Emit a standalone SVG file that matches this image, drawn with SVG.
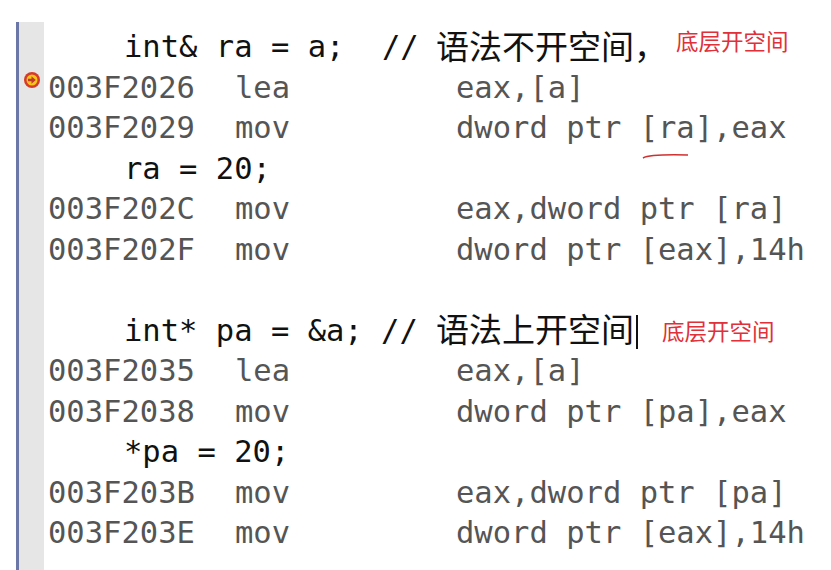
<svg xmlns="http://www.w3.org/2000/svg" width="831" height="570" viewBox="0 0 831 570">
<style>
.m{font-family:"DejaVu Sans Mono","Liberation Mono",monospace;font-size:30.5px}
.a{fill:#555}
.s{fill:#111}
.c{font-family:"Noto Sans CJK SC",sans-serif;font-size:33px;fill:#111}
.r{font-family:"Noto Sans CJK SC",sans-serif;font-size:22.5px;fill:#e0303a}
</style>
<rect width="831" height="570" fill="#fff"/>
<g id="gutter">
<rect x="19" y="22" width="25" height="548" fill="#e6e6e6"/>
<rect x="16" y="22" width="3" height="548" fill="#6b77a6"/>
<circle cx="32" cy="80" r="8" fill="#d63a2a"/>
<circle cx="32" cy="80" r="5.5" fill="#f5c518"/>
<path d="M28 78.8h3.5v-2.6l4.3 3.8-4.3 3.8v-2.6h-3.5z" fill="#c0392b"/>
</g>
<g id="code" class="m">
<text x="124" y="57" class="s">int&amp; ra = a;</text><text x="382" y="57" class="s">//</text>
<text x="48" y="98" class="a">003F2026</text><text x="235" y="98" class="a">lea</text><text x="456" y="98" class="a">eax,[a]</text>
<text x="48" y="138" class="a">003F2029</text><text x="235" y="138" class="a">mov</text><text x="456" y="138" class="a">dword ptr [ra],eax</text>
<text x="124" y="179" class="s">ra = 20;</text>
<text x="48" y="219" class="a">003F202C</text><text x="235" y="219" class="a">mov</text><text x="456" y="219" class="a">eax,dword ptr [ra]</text>
<text x="48" y="260" class="a">003F202F</text><text x="235" y="260" class="a">mov</text><text x="456" y="260" class="a">dword ptr [eax],14h</text>
<text x="124" y="341" class="s">int* pa = &amp;a; //</text>
<text x="48" y="381" class="a">003F2035</text><text x="235" y="381" class="a">lea</text><text x="456" y="381" class="a">eax,[a]</text>
<text x="48" y="422" class="a">003F2038</text><text x="235" y="422" class="a">mov</text><text x="456" y="422" class="a">dword ptr [pa],eax</text>
<text x="124" y="462" class="s">*pa = 20;</text>
<text x="48" y="503" class="a">003F203B</text><text x="235" y="503" class="a">mov</text><text x="456" y="503" class="a">eax,dword ptr [pa]</text>
<text x="48" y="543" class="a">003F203E</text><text x="235" y="543" class="a">mov</text><text x="456" y="543" class="a">dword ptr [eax],14h</text>
</g>
<g id="comments">
<text x="436" y="59" class="c">语法不开空间，</text>
<text x="436" y="342" class="c">语法上开空间</text>
<rect x="636" y="315" width="2" height="34" fill="#111"/>
<text x="676" y="50" class="r">底层开空间</text>
<text x="662" y="340" class="r">底层开空间</text>
<path d="M643 158 Q650 154 688 155" stroke="#d03030" stroke-width="1.5" fill="none"/>
</g>
</svg>
